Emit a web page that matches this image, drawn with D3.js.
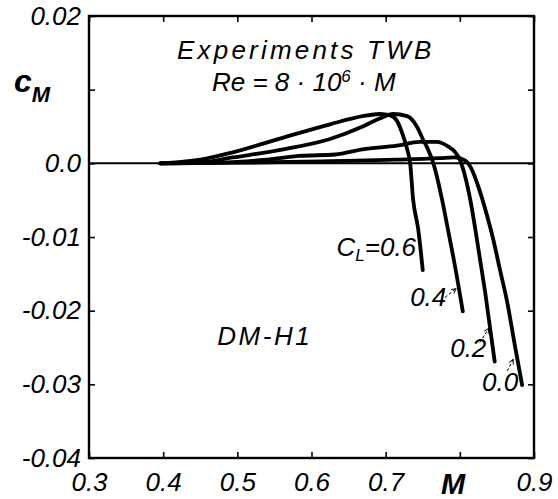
<!DOCTYPE html>
<html>
<head>
<meta charset="utf-8">
<script src="https://cdn.jsdelivr.net/npm/d3@7"></script>
<style>
  html, body { margin: 0; padding: 0; background: #fff; }
  svg { display: block; }
  text { font-family: "Liberation Sans", Arial, sans-serif; font-style: italic; fill: #000; }
</style>
</head>
<body>
<svg id="chart" width="558" height="499"></svg>
<script>
// ---- data ----
const xTicks = [0.3, 0.4, 0.5, 0.6, 0.7, 0.8, 0.9];
const xTickLabels = ["0.3", "0.4", "0.5", "0.6", "0.7", "", "0.9"];
const yTicks = [0.02, 0.01, 0.0, -0.01, -0.02, -0.03, -0.04];
const yTickLabels = ["0.02", "", "0.0", "-0.01", "-0.02", "-0.03", "-0.04"];

const machCL06 = [0.396, 0.450, 0.494, 0.562, 0.625, 0.669, 0.692, 0.706, 0.715, 0.723, 0.729, 0.733, 0.737, 0.744, 0.750];
const cmCL06   = [0.0, 0.0005, 0.0015, 0.0035, 0.0053, 0.0064, 0.0067, 0.0065, 0.0058, 0.0039, 0.0019, 0.0, -0.0049, -0.0090, -0.0145];

const machCL04 = [0.396, 0.450, 0.494, 0.562, 0.625, 0.669, 0.692, 0.710, 0.729, 0.742, 0.750, 0.757, 0.764, 0.776, 0.784, 0.793, 0.804];
const cmCL04   = [0.0, 0.0001, 0.0008, 0.0019, 0.0033, 0.0050, 0.0061, 0.0067, 0.0064, 0.0050, 0.0033, 0.0019, 0.0001, -0.0049, -0.0090, -0.0137, -0.0201];

const machCL02 = [0.396, 0.477, 0.540, 0.584, 0.632, 0.669, 0.715, 0.746, 0.769, 0.784, 0.793, 0.800, 0.814, 0.823, 0.834, 0.847];
const cmCL02   = [0.0, 0.0001, 0.0005, 0.0010, 0.0012, 0.0019, 0.0024, 0.0029, 0.0029, 0.0023, 0.0016, 0.0005, -0.0049, -0.0103, -0.0174, -0.0269];

const machCL00 = [0.396, 0.517, 0.625, 0.715, 0.773, 0.793, 0.807, 0.816, 0.823, 0.837, 0.845, 0.854, 0.864, 0.874, 0.884];
const cmCL00   = [0.0, 0.0001, 0.0003, 0.0005, 0.0007, 0.0008, 0.0004, -0.0008, -0.0026, -0.0072, -0.0103, -0.0144, -0.0189, -0.0246, -0.0301];

const seriesNames = ["0.6", "0.4", "0.2", "0.0"];

// ---- layout ----
const svg = d3.select("#chart");
const mLeft = 89, mRight = 534, mTop = 16, mBottom = 458;

const x = d3.scaleLinear().domain([0.3, 0.9]).range([mLeft, mRight]);
const y = d3.scaleLinear().domain([-0.04, 0.02]).range([mBottom, mTop]);

// axes (ticks pointing inward)
const fmtX = d => xTickLabels[xTicks.indexOf(d)];
const fmtY = d => yTickLabels[yTicks.indexOf(d)];

const gB = svg.append("g").attr("transform", `translate(0,${mBottom})`)
  .call(d3.axisBottom(x).tickValues(xTicks).tickSize(-6).tickPadding(14.5).tickFormat(fmtX));
const gT = svg.append("g").attr("transform", `translate(0,${mTop})`)
  .call(d3.axisTop(x).tickValues(xTicks).tickSize(-6).tickFormat(""));
const gL = svg.append("g").attr("transform", `translate(${mLeft},0)`)
  .call(d3.axisLeft(y).tickValues(yTicks).tickSize(-6).tickPadding(8).tickFormat(fmtY));
const gR = svg.append("g").attr("transform", `translate(${mRight},0)`)
  .call(d3.axisRight(y).tickValues(yTicks).tickSize(-6).tickFormat(""));

[gB, gT, gL, gR].forEach(g => {
  g.select(".domain").remove();
  g.selectAll(".tick line").attr("stroke", "#000").attr("stroke-width", 1.6);
  g.selectAll(".tick text").attr("font-size", 26).attr("font-family", "Liberation Sans").attr("font-style", "italic").attr("fill", "#000");
});

// frame
svg.append("rect")
  .attr("x", mLeft).attr("y", mTop)
  .attr("width", mRight - mLeft).attr("height", mBottom - mTop)
  .attr("fill", "none").attr("stroke", "#000").attr("stroke-width", 2.4);

// zero line
svg.append("line")
  .attr("x1", x(0.3)).attr("x2", x(0.9))
  .attr("y1", y(0)).attr("y2", y(0))
  .attr("stroke", "#000").attr("stroke-width", 2);

// curves
const line = d3.line().x(d => x(d[0])).y(d => y(d[1])).curve(d3.curveMonotoneX);
const series = [
  d3.zip(machCL06, cmCL06),
  d3.zip(machCL04, cmCL04),
  d3.zip(machCL02, cmCL02),
  d3.zip(machCL00, cmCL00)
];
svg.append("g").selectAll("path").data(series).join("path")
  .attr("d", line)
  .attr("fill", "none")
  .attr("stroke", "#000")
  .attr("stroke-width", 3.8)
  .attr("stroke-linecap", "round")
  .attr("stroke-linejoin", "round");

// axis titles
const cm = svg.append("text").attr("x", 14).attr("y", 92).attr("font-weight", "bold").attr("font-style", "normal");
cm.append("tspan").attr("font-size", 32).text("c");
cm.append("tspan").attr("font-size", 22).attr("font-style", "italic").attr("dy", 10).text("M");

svg.append("text").attr("x", 453).attr("y", 494).attr("text-anchor", "middle")
  .attr("font-size", 29).attr("font-weight", "bold").text("M");

// header texts
svg.append("text").attr("x", 177).attr("y", 59).attr("font-size", 26)
  .attr("letter-spacing", 3.2).text("Experiments TWB");
const re = svg.append("text").attr("x", 212).attr("y", 91).attr("font-size", 26);
re.append("tspan").text("Re = 8 · 10");
re.append("tspan").attr("font-size", 17).attr("dy", -9).text("6");
re.append("tspan").attr("dy", 9).text(" · M");

svg.append("text").attr("x", x(0.473)).attr("y", y(-0.0246)).attr("font-size", 26)
  .attr("letter-spacing", 2.5).text("DM-H1");

// curve labels
const cl = svg.append("text").attr("x", x(0.741)).attr("y", y(-0.0126)).attr("font-size", 26).attr("text-anchor", "end");
cl.append("tspan").text("C");
cl.append("tspan").attr("font-size", 17).attr("dy", 5).text("L");
cl.append("tspan").attr("dy", -5).text("=0.6");

const labelPos = [
  { t: "0.4", m: 0.733, c: -0.0194, lm: [0.780, 0.795], lc: [-0.0182, -0.0170] },
  { t: "0.2", m: 0.787, c: -0.0263, lm: [0.827, 0.839], lc: [-0.0243, -0.0224] },
  { t: "0.0", m: 0.830, c: -0.0309, lm: [0.864, 0.872], lc: [-0.0282, -0.0266] }
];
svg.append("defs").append("marker")
  .attr("id", "arr").attr("viewBox", "0 0 10 10").attr("refX", 9).attr("refY", 5)
  .attr("markerWidth", 6).attr("markerHeight", 6).attr("orient", "auto")
  .append("path").attr("d", "M1,1 L9,5 L1,9").attr("fill", "none").attr("stroke", "#000").attr("stroke-width", 1.5);

labelPos.forEach(p => {
  svg.append("text").attr("x", x(p.m)).attr("y", y(p.c)).attr("font-size", 26).text(p.t);
  svg.append("line")
    .attr("x1", x(p.lm[0])).attr("y1", y(p.lc[0]))
    .attr("x2", x(p.lm[1])).attr("y2", y(p.lc[1]))
    .attr("stroke", "#000").attr("stroke-width", 1)
    .attr("stroke-dasharray", "3,2")
    .attr("marker-end", "url(#arr)");
});
</script>
</body>
</html>
